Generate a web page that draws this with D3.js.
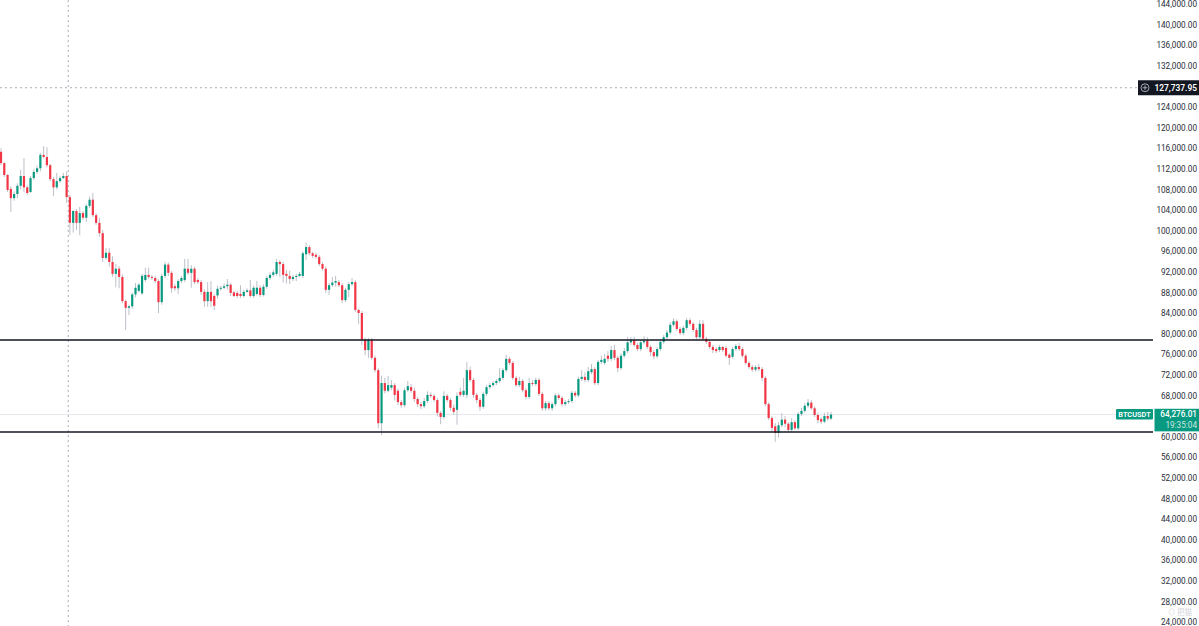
<!DOCTYPE html>
<html>
<head>
<meta charset="utf-8">
<script src="https://cdn.jsdelivr.net/npm/d3@7"></script>
<style>
  html, body { margin: 0; padding: 0; background: #fff; }
  svg { display: block; font-family: Roboto, "Noto Sans", sans-serif; }
</style>
</head>
<body>
<svg id="chart" width="1199" height="626"></svg>
<script>
// BTCUSDT - candles in thousands USDT: [open, high, low, close]
const ohlc = [
  [115.3,116.0,112.7,113.1],[113.1,113.3,110.4,110.8],[110.8,111.0,107.5,107.9],[108.1,108.6,103.6,106.3],[106.3,107.6,105.8,107.1],
  [107.1,109.2,106.3,108.7],[108.7,111.8,108.0,110.6],[110.6,114.1,107.5,108.4],[108.4,108.8,106.9,107.3],[107.5,110.6,107.3,110.2],
  [110.2,112.0,109.8,111.4],[111.4,112.6,111.0,112.1],[112.1,115.1,111.5,114.7],[114.7,116.4,114.0,114.3],[114.3,116.2,112.3,112.7],
  [112.7,113.0,109.6,110.0],[110.0,110.4,106.7,108.4],[108.4,111.2,108.0,109.6],[109.6,110.6,109.3,110.2],[110.2,111.2,110.0,110.6],
  [110.6,111.5,105.4,106.5],[106.5,106.9,99.1,101.5],[101.5,104.0,99.6,103.8],[103.8,104.2,100.1,101.5],[101.5,104.6,99.1,103.4],
  [103.4,103.8,102.1,102.5],[102.5,105.2,101.7,104.8],[104.8,106.6,104.4,106.0],[106.0,107.3,102.6,103.0],[103.0,103.4,101.1,101.5],
  [101.5,102.5,98.8,99.5],[99.5,100.1,93.9,94.7],[94.7,96.6,94.3,95.7],[95.7,96.6,93.0,93.9],[93.9,95.0,91.0,91.6],
  [91.6,93.5,89.0,92.6],[92.6,93.1,88.8,91.0],[91.0,91.5,85.9,86.3],[86.3,86.6,80.7,85.0],[85.0,85.6,83.6,85.3],
  [85.3,88.0,84.8,87.6],[87.6,89.8,87.0,88.9],[88.3,89.8,88.0,89.5],[87.8,91.6,87.5,91.2],[90.4,92.8,90.0,91.4],
  [91.4,92.8,90.6,91.0],[91.0,91.4,90.4,90.8],[90.8,91.2,89.8,90.2],[90.2,90.6,84.0,86.1],[86.1,91.6,85.6,91.2],
  [91.2,93.9,90.8,93.4],[93.4,93.8,91.2,91.8],[91.8,92.2,87.9,88.8],[89.2,89.6,88.3,88.8],[88.8,90.6,87.7,90.2],
  [90.2,91.2,89.8,90.8],[90.4,94.5,90.0,92.6],[92.6,94.5,91.4,91.8],[91.8,93.3,88.9,92.6],[92.6,93.0,89.6,90.0],
  [90.4,90.8,89.6,90.0],[90.0,90.4,87.5,88.1],[88.1,88.6,85.2,86.3],[86.3,90.0,85.2,88.1],[88.1,90.2,85.2,86.3],
  [87.3,87.7,84.6,85.4],[87.4,89.3,86.8,88.7],[88.7,89.3,88.3,88.9],[88.9,89.7,88.6,89.2],[89.2,90.6,88.6,89.5],
  [89.5,89.8,87.3,87.9],[88.0,88.3,87.1,87.3],[87.9,88.3,86.9,87.3],[87.7,89.4,86.9,87.3],[87.3,88.5,87.0,88.1],
  [88.1,88.8,87.9,88.4],[88.4,90.4,87.0,87.3],[87.3,89.3,86.9,88.9],[87.7,90.2,87.4,88.9],[88.9,89.4,87.1,87.5],
  [87.5,89.6,87.2,89.1],[89.1,91.2,88.7,90.8],[90.8,91.9,90.4,91.4],[91.4,92.4,91.0,91.9],[91.6,94.5,91.2,93.9],
  [93.9,94.3,91.0,93.5],[93.5,94.0,89.9,91.4],[91.6,92.4,89.7,91.2],[91.2,92.2,89.6,90.6],[90.6,91.4,90.2,91.0],
  [91.0,91.6,90.2,91.2],[91.2,92.0,91.0,91.6],[91.2,96.0,90.8,95.6],[95.4,97.7,94.3,96.8],[96.8,97.2,95.2,95.6],
  [95.6,95.9,94.7,95.1],[95.3,95.7,94.5,94.9],[94.9,95.3,93.1,93.5],[93.5,93.9,92.2,92.6],[92.6,93.0,87.9,88.5],
  [88.5,89.8,87.5,89.4],[89.4,91.0,89.1,89.9],[89.9,91.2,89.1,90.2],[90.0,90.4,89.0,89.4],[89.4,89.8,85.9,86.5],
  [86.5,88.9,86.1,88.5],[88.5,90.0,87.1,89.6],[89.6,90.8,89.2,90.0],[90.0,90.4,84.2,84.6],[84.6,84.8,81.9,84.0],
  [84.0,84.4,77.8,78.8],[78.8,79.2,75.8,76.8],[76.8,79.2,75.3,78.8],[78.8,79.2,74.9,75.3],[75.3,75.7,72.5,72.9],
  [72.9,73.3,61.6,62.6],[62.6,71.8,60.3,70.4],[70.4,71.4,68.4,68.9],[68.9,71.8,68.6,70.0],[69.5,71.0,69.0,70.0],
  [70.0,70.4,67.0,68.1],[68.9,69.3,66.1,66.7],[66.7,67.1,65.6,66.1],[66.1,69.5,65.7,69.0],[69.0,70.8,68.7,69.8],
  [69.6,70.2,68.5,68.9],[68.9,69.5,66.7,67.3],[67.3,67.7,65.8,66.3],[66.3,66.7,65.3,65.9],[65.9,67.5,65.5,66.9],
  [66.9,68.8,66.5,68.1],[68.1,68.6,67.5,67.9],[67.9,68.3,66.7,67.1],[67.1,67.5,63.9,64.6],[64.6,65.0,62.4,63.8],
  [63.8,68.8,63.4,67.9],[67.9,68.3,66.7,67.1],[67.1,67.5,65.0,65.6],[65.6,66.2,64.2,64.8],[65.2,68.6,62.3,67.9],
  [68.7,69.5,67.7,68.1],[68.1,71.4,67.7,68.9],[68.1,74.5,67.5,72.9],[72.9,73.6,70.6,71.0],[71.0,71.4,67.5,68.1],
  [68.1,68.5,66.5,67.1],[67.1,67.5,65.0,65.8],[65.8,68.7,65.4,68.3],[68.3,70.0,67.9,69.6],[69.6,70.4,69.2,70.0],
  [70.0,70.8,69.6,70.4],[70.4,71.2,70.0,70.8],[70.8,73.3,70.4,71.4],[71.4,73.3,71.0,72.9],[72.9,75.9,72.5,75.1],
  [75.1,75.5,73.9,74.3],[74.3,74.7,71.0,71.4],[71.4,71.8,69.6,70.0],[70.0,71.6,69.6,70.8],[70.8,71.2,68.6,69.0],
  [69.0,69.4,67.2,67.7],[67.7,71.4,67.3,70.4],[70.4,71.0,69.8,70.2],[70.2,71.4,69.8,71.0],[71.0,71.4,67.9,68.3],
  [68.3,68.7,65.0,65.5],[65.5,66.9,65.0,66.5],[66.5,66.9,65.1,65.5],[65.5,66.7,65.0,66.3],[66.3,68.4,65.9,68.0],
  [68.0,68.4,67.1,67.5],[67.5,67.9,65.9,66.3],[66.3,67.1,65.9,66.7],[66.7,67.3,66.3,66.9],[66.9,68.9,66.5,68.5],
  [68.5,68.9,67.6,68.0],[68.0,71.6,67.6,71.2],[71.2,72.9,70.8,71.6],[71.6,72.5,70.6,71.0],[71.0,73.5,70.6,72.7],
  [72.5,74.1,72.1,73.1],[73.1,73.5,70.0,70.4],[70.4,74.9,70.0,74.5],[74.5,75.7,74.1,74.9],[74.3,76.0,73.9,75.1],
  [75.7,76.6,74.5,75.1],[75.1,77.6,74.7,76.8],[76.8,77.8,74.9,75.3],[75.3,75.7,72.5,73.3],[73.3,76.2,72.9,75.7],
  [75.7,77.2,75.3,76.6],[76.6,79.4,76.2,78.3],[78.3,79.3,77.8,78.7],[78.7,79.4,77.4,77.8],[77.8,78.2,76.6,77.0],
  [77.0,78.8,76.6,78.3],[78.3,79.5,77.9,78.6],[78.6,79.3,77.0,77.4],[77.4,77.8,75.6,76.4],[76.4,76.8,75.0,75.6],
  [75.6,77.4,75.2,77.0],[77.0,78.8,76.6,78.4],[78.4,79.7,78.0,79.3],[79.3,80.7,78.9,80.2],[80.2,82.2,79.8,81.7],
  [81.7,83.0,81.3,82.4],[82.4,82.8,80.5,80.9],[80.9,81.3,79.7,80.1],[80.1,81.5,79.7,81.1],[81.1,83.0,80.7,82.6],
  [82.6,83.0,81.5,81.9],[81.9,82.2,80.3,80.7],[80.7,81.1,78.9,79.3],[79.3,82.6,78.9,81.9],[81.9,82.6,78.6,79.0],
  [79.0,79.4,78.0,78.4],[78.4,78.8,77.0,77.4],[77.4,77.8,76.2,76.8],[77.0,77.4,76.2,76.6],[76.8,77.8,76.4,77.4],
  [77.4,77.6,76.4,76.8],[77.2,77.6,75.3,75.7],[75.9,76.2,73.9,75.3],[75.5,77.4,75.1,77.0],[77.0,78.0,76.6,77.6],
  [77.6,78.2,76.6,77.0],[77.0,77.4,75.3,75.7],[75.7,76.1,73.9,74.3],[74.3,74.7,73.1,73.5],[73.5,73.9,72.6,73.0],
  [73.0,73.9,72.6,73.5],[73.5,74.1,72.7,73.1],[73.1,73.5,70.8,71.4],[71.4,71.8,65.9,66.3],[66.3,66.7,63.2,63.6],
  [63.6,64.0,61.0,61.7],[62.0,62.6,59.0,60.7],[60.7,62.8,59.8,62.2],[62.2,64.6,61.8,63.3],[63.3,64.0,61.8,62.5],
  [62.5,62.8,60.9,61.3],[61.3,63.6,60.9,62.8],[62.8,63.2,61.2,61.6],[61.6,64.8,61.2,64.4],[64.4,65.6,64.0,65.0],
  [65.0,66.5,64.6,66.0],[66.0,67.3,65.6,66.6],[66.6,67.1,65.2,65.5],[65.5,65.9,63.8,64.2],[64.2,64.6,62.6,63.2],
  [63.4,63.8,62.4,62.9],[62.9,64.6,62.6,64.0],[64.0,64.8,63.1,63.5],[63.5,64.8,63.2,64.276]
];

// price axis ticks (thousands)
const priceTicks = [24,28,32,36,40,44,48,52,56,60,64,68,72,76,80,84,88,92,96,100,
                    104,108,112,116,120,124,128,132,136,140,144];

// hand-drawn horizontal levels
const levels = [78.76, 60.89];

const lastPrice   = 64.27601;
const lastLabel   = "64,276.01";
const countdown   = "19:35:04";
const symbol      = "BTCUSDT";
const crossPrice  = 127.73795;
const crossLabel  = "127,737.95";
const crossIndex  = 20.5;

const UP = "#089981", DOWN = "#f23645", WICK = "#bcc0c8";

const svg = d3.select("#chart");
const plotRight = 1153;

const y = d3.scaleLinear().domain([24, 144]).range([622, 4]);
const x = d3.scaleLinear().domain([0, 253]).range([1, 831]);

// crosshair (dotted)
svg.append("line")
  .attr("x1", x(crossIndex)).attr("x2", x(crossIndex))
  .attr("y1", 0).attr("y2", 626)
  .attr("stroke", "#a9adb6").attr("stroke-width", 1)
  .attr("stroke-dasharray", "2 3");

svg.append("line")
  .attr("x1", 0).attr("x2", 1138)
  .attr("y1", y(crossPrice)).attr("y2", y(crossPrice))
  .attr("stroke", "#a9adb6").attr("stroke-width", 1)
  .attr("stroke-dasharray", "2 3");

// last price line
svg.append("line")
  .attr("x1", 0).attr("x2", 1116)
  .attr("y1", y(lastPrice)).attr("y2", y(lastPrice))
  .attr("stroke", "#e3e6eb").attr("stroke-width", 1);

// wicks
const candles = svg.append("g");
candles.selectAll("line.wick")
  .data(ohlc)
  .join("line")
  .attr("class", "wick")
  .attr("x1", (d, i) => x(i)).attr("x2", (d, i) => x(i))
  .attr("y1", d => y(d[1])).attr("y2", d => y(d[2]))
  .attr("stroke", WICK).attr("stroke-width", 1);

// bodies
candles.selectAll("rect.body")
  .data(ohlc)
  .join("rect")
  .attr("class", "body")
  .attr("x", (d, i) => x(i) - 1.1)
  .attr("width", 2.2)
  .attr("y", d => y(Math.max(d[0], d[3])))
  .attr("height", d => Math.max(1, Math.abs(y(d[0]) - y(d[3]))))
  .attr("fill", d => d[3] >= d[0] ? UP : DOWN);

// horizontal levels
svg.selectAll("line.level")
  .data(levels)
  .join("line")
  .attr("class", "level")
  .attr("x1", 0).attr("x2", plotRight)
  .attr("y1", d => y(d)).attr("y2", d => y(d))
  .attr("stroke", "#131722").attr("stroke-width", 1.7);

// price axis
const fmt = d3.format(",.2f");
const axis = svg.append("g")
  .attr("transform", "translate(1197,0)")
  .call(d3.axisRight(y).tickValues(priceTicks).tickSize(0).tickPadding(0)
    .tickFormat(d => fmt(d * 1000)));
axis.select(".domain").remove();
axis.selectAll("text")
  .attr("x", 0)
  .attr("text-anchor", "end")
  .attr("fill", "#2a2e39")
  .style("font-size", "8.2px")
  .style("font-family", "Roboto, sans-serif");

// crosshair price label
const cy = y(crossPrice);
svg.append("rect")
  .attr("x", 1138).attr("y", cy - 7.5).attr("width", 61).attr("height", 15)
  .attr("fill", "#131722");
svg.append("circle")
  .attr("cx", 1145).attr("cy", cy).attr("r", 4)
  .attr("fill", "none").attr("stroke", "#b2b5be").attr("stroke-width", 0.9);
svg.append("path")
  .attr("d", `M1142.6,${cy}H1147.4M1145,${cy - 2.4}V${cy + 2.4}`)
  .attr("stroke", "#b2b5be").attr("stroke-width", 0.9);
svg.append("text")
  .attr("x", 1197).attr("y", cy).attr("dy", "0.35em")
  .attr("text-anchor", "end").attr("fill", "#fff")
  .attr("font-size", "8.4px").attr("font-weight", 600)
  .text(crossLabel);

// last price labels
const ly = y(lastPrice);
svg.append("rect")
  .attr("x", 1116).attr("y", ly - 5.6).attr("width", 37).attr("height", 10.5)
  .attr("rx", 1).attr("fill", UP);
svg.append("text")
  .attr("x", 1134.5).attr("y", ly - 0.3).attr("dy", "0.35em")
  .attr("text-anchor", "middle").attr("fill", "#fff")
  .attr("font-size", "7.4px").attr("font-weight", 600)
  .text(symbol);

svg.append("rect")
  .attr("x", 1154.5).attr("y", ly - 5.8).attr("width", 44.5).attr("height", 22.6)
  .attr("fill", UP);
svg.append("text")
  .attr("x", 1197).attr("y", ly).attr("dy", "0.35em")
  .attr("text-anchor", "end").attr("fill", "#fff")
  .attr("font-size", "8.2px").attr("font-weight", 500)
  .text(lastLabel);
svg.append("text")
  .attr("x", 1197).attr("y", ly + 11).attr("dy", "0.35em")
  .attr("text-anchor", "end").attr("fill", "rgba(255,255,255,0.8)")
  .attr("font-size", "8.2px")
  .text(countdown);

// watermark
svg.append("text")
  .attr("x", 1192).attr("y", 615)
  .attr("text-anchor", "end").attr("fill", "#d4d6da")
  .attr("font-size", "7.5px")
  .attr("font-family", "'Noto Sans CJK SC', sans-serif")
  .text("⊙ 把猫");
</script>
</body>
</html>
